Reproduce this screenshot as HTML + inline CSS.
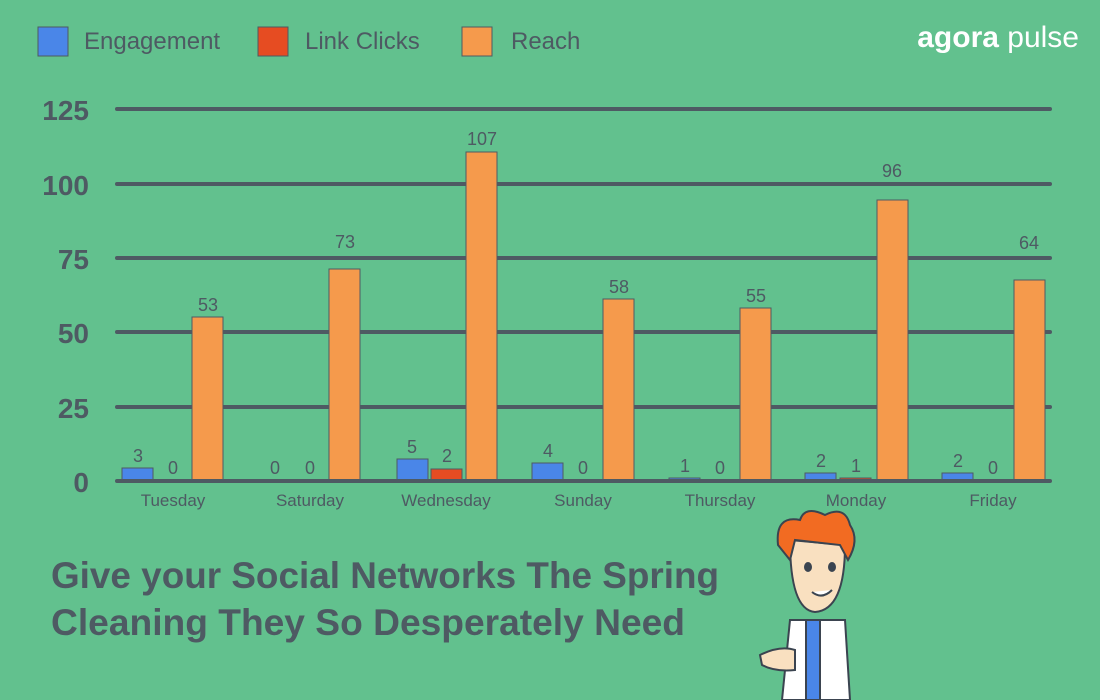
<!DOCTYPE html>
<html><head><meta charset="utf-8"><style>
html,body{margin:0;padding:0;background:#62c18e;}
svg{display:block;font-family:"Liberation Sans",sans-serif;}
</style></head><body>
<svg width="1100" height="700" viewBox="0 0 1100 700">
<rect width="1100" height="700" fill="#62c18e"/>
<!-- legend -->
<g stroke="#4e5a60" stroke-width="1">
<rect x="38" y="27" width="30" height="29" fill="#4a86e8"/>
<rect x="258" y="27" width="30" height="29" fill="#e64c22"/>
<rect x="462" y="27" width="30" height="29" fill="#f59a4c"/>
</g>
<g fill="#4e5a63" font-size="24">
<text x="84" y="49">Engagement</text>
<text x="305" y="49">Link Clicks</text>
<text x="511" y="49">Reach</text>
</g>
<text x="1079" y="47" text-anchor="end" fill="#ffffff" font-size="30" font-weight="bold">agora<tspan font-weight="normal"> pulse</tspan></text>
<!-- gridlines -->
<g stroke="#4e5a63" stroke-width="4" stroke-linecap="round">
<line x1="117" y1="109" x2="1050" y2="109"/>
<line x1="117" y1="184" x2="1050" y2="184"/>
<line x1="117" y1="258" x2="1050" y2="258"/>
<line x1="117" y1="332" x2="1050" y2="332"/>
<line x1="117" y1="407" x2="1050" y2="407"/>
</g>
<g fill="#4e5a63" font-size="28" text-anchor="end" font-weight="bold">
<text x="89" y="120">125</text>
<text x="89" y="195">100</text>
<text x="89" y="269">75</text>
<text x="89" y="343">50</text>
<text x="89" y="418">25</text>
<text x="89" y="492">0</text>
</g>
<!-- bars -->
<g stroke="#4e5a63" stroke-width="1">
<rect x="122" y="468" width="31" height="13" fill="#4a86e8"/>
<rect x="192" y="317" width="31" height="164" fill="#f59a4c"/>
<rect x="329" y="269" width="31" height="212" fill="#f59a4c"/>
<rect x="397" y="459" width="31" height="22" fill="#4a86e8"/>
<rect x="431" y="469" width="31" height="12" fill="#e64c22"/>
<rect x="466" y="152" width="31" height="329" fill="#f59a4c"/>
<rect x="532" y="463" width="31" height="18" fill="#4a86e8"/>
<rect x="603" y="299" width="31" height="182" fill="#f59a4c"/>
<rect x="669" y="478" width="31" height="3" fill="#4a86e8"/>
<rect x="740" y="308" width="31" height="173" fill="#f59a4c"/>
<rect x="805" y="473" width="31" height="8" fill="#4a86e8"/>
<rect x="840" y="478" width="31" height="3" fill="#e64c22"/>
<rect x="877" y="200" width="31" height="281" fill="#f59a4c"/>
<rect x="942" y="473" width="31" height="8" fill="#4a86e8"/>
<rect x="1014" y="280" width="31" height="201" fill="#f59a4c"/>
</g>
<line x1="117" y1="481" x2="1050" y2="481" stroke="#4e5a63" stroke-width="4" stroke-linecap="round"/>
<!-- value labels -->
<g fill="#4e5a63" font-size="18" text-anchor="middle">
<text x="138" y="462">3</text><text x="173" y="474">0</text><text x="208" y="311">53</text>
<text x="275" y="474">0</text><text x="310" y="474">0</text><text x="345" y="248">73</text>
<text x="412" y="453">5</text><text x="447" y="462">2</text><text x="482" y="145">107</text>
<text x="548" y="457">4</text><text x="583" y="474">0</text><text x="619" y="293">58</text>
<text x="685" y="472">1</text><text x="720" y="474">0</text><text x="756" y="302">55</text>
<text x="821" y="467">2</text><text x="856" y="472">1</text><text x="892" y="177">96</text>
<text x="958" y="467">2</text><text x="993" y="474">0</text><text x="1029" y="249">64</text>
</g>
<g fill="#4e5a63" font-size="17" text-anchor="middle">
<text x="173" y="506">Tuesday</text><text x="310" y="506">Saturday</text><text x="446" y="506">Wednesday</text>
<text x="583" y="506">Sunday</text><text x="720" y="506">Thursday</text><text x="856" y="506">Monday</text><text x="993" y="506">Friday</text>
</g>
<!-- title -->
<g fill="#4e5a63" font-size="37" font-weight="bold">
<text x="51" y="588" textLength="668" lengthAdjust="spacingAndGlyphs">Give your Social Networks The Spring</text>
<text x="51" y="635" textLength="634" lengthAdjust="spacingAndGlyphs">Cleaning They So Desperately Need</text>
</g>
<!-- character -->
<g stroke="#3b4450" stroke-width="2">
<path d="M790 620 L845 620 L850 700 L782 700 Z" fill="#ffffff"/>
<rect x="806" y="620" width="14" height="80" fill="#4a86e8"/>
<path d="M790 540 Q790 610 815 612 Q845 610 845 545 Z" fill="#f9e0c0"/>
<path d="M778 545 Q775 515 800 520 Q805 505 825 515 Q845 505 850 525 Q860 540 848 560 L840 545 L795 540 L790 560 Z" fill="#f26b22"/>
<ellipse cx="808" cy="567" rx="3" ry="4" fill="#3b4450"/>
<ellipse cx="832" cy="567" rx="3" ry="4" fill="#3b4450"/>
<path d="M812 592 Q822 600 832 590" fill="#ffffff"/>
<path d="M760 655 Q780 645 795 650 L795 670 Q775 672 762 665 Z" fill="#f9e0c0"/>
</g>
</svg>
</body></html>
